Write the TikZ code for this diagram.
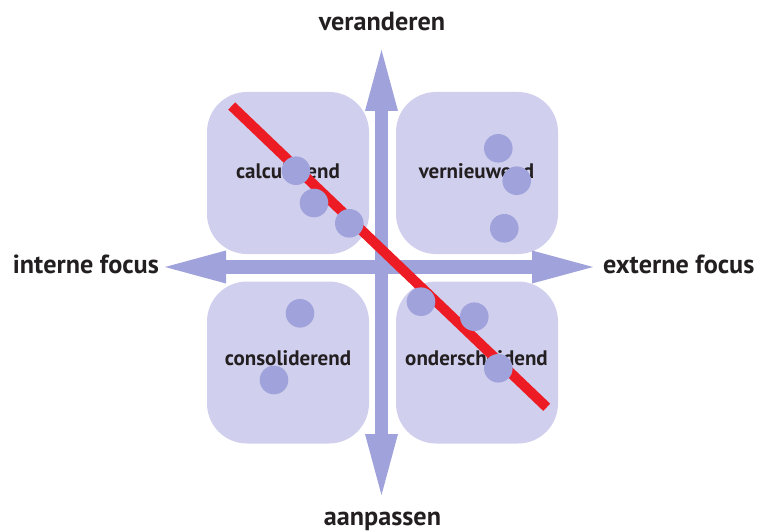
\documentclass[tikz,border=0pt]{standalone}
\usepackage{fontspec}
\setmainfont{PT Sans}
\definecolor{boxfill}{RGB}{208,207,238}
\definecolor{axiscol}{RGB}{160,162,219}
\definecolor{redline}{RGB}{237,28,36}
\definecolor{txt}{RGB}{35,31,32}
\begin{document}
\begin{tikzpicture}[x=1pt,y=-1pt,
  quad/.style={fill=boxfill, rounded corners=40pt, draw=none, minimum width=162pt, minimum height=162pt, inner sep=0pt},
  dot/.style={circle, fill=axiscol, minimum size=28.6pt, inner sep=0pt},
  axlabel/.style={font=\fontsize{26.2}{30}\selectfont\bfseries, text=txt, anchor=base, inner sep=0pt},
  boxlabel/.style={font=\fontsize{21}{25}\selectfont\bfseries, text=txt, anchor=base, inner sep=0pt},
  shaft/.style={draw=axiscol, line width=13.5pt},
  headtip/.style={fill=axiscol},
  redstroke/.style={draw=redline, line width=10pt}
]
\useasboundingbox (0,0) rectangle (758,532);
% quadrants
\node[quad] (tl) at (288,173) {};
\node[quad] (tr) at (477,173) {};
\node[quad] (bl) at (288,362.5) {};
\node[quad] (br) at (477,362.5) {};
% quadrant labels
\node[boxlabel] (ltl) at (288,178.3) {calculerend};
\node[boxlabel] (ltr) at (476.5,178.3) {vernieuwend};
\node[boxlabel] (lbl) at (288,365) {consoliderend};
\node[boxlabel] (lbr) at (476.5,365) {onderscheidend};
% axes
\coordinate (atop) at (381.5,50);
\coordinate (abot) at (381.5,495);
\coordinate (aleft) at (165,267);
\coordinate (aright) at (593,267);
\draw[shaft] ([yshift=60pt]abot) -- ([yshift=-60pt]atop);
\draw[shaft] ([xshift=60pt]aleft) -- ([xshift=-60pt]aright);
\fill[headtip] (atop) -- ++(-16.5,61) -- ++(33,0) -- cycle;
\fill[headtip] (abot) -- ++(-16.5,-61) -- ++(33,0) -- cycle;
\fill[headtip] (aleft) -- ++(61,-16.5) -- ++(0,33) -- cycle;
\fill[headtip] (aright) -- ++(-61,-16.5) -- ++(0,33) -- cycle;
% axis labels
\node[axlabel] (up) at (382,30.7) {veranderen};
\node[axlabel] (down) at (382.5,525) {aanpassen};
\node[axlabel, anchor=base east] (left) at (159,273.3) {interne focus};
\node[axlabel, anchor=base west] (right) at (603,273.3) {externe focus};
% red line
\coordinate (rs) at (231.7,106);
\coordinate (re) at (546.7,407.3);
\draw[redstroke] (rs) -- (re);
% dots
\node[dot] (d1) at (296,170.7) {};
\node[dot] (d2) at (314,203) {};
\node[dot] (d3) at (349.3,223.3) {};
\node[dot] (d4) at (498.3,148.3) {};
\node[dot] (d5) at (516.7,180.7) {};
\node[dot] (d6) at (504.3,228.3) {};
\node[dot] (d7) at (300,313.3) {};
\node[dot] (d8) at (274,380) {};
\node[dot] (d9) at (421,301.7) {};
\node[dot] (d10) at (474.3,316.7) {};
\node[dot] (d11) at (498.3,368.3) {};
\end{tikzpicture}
\end{document}
